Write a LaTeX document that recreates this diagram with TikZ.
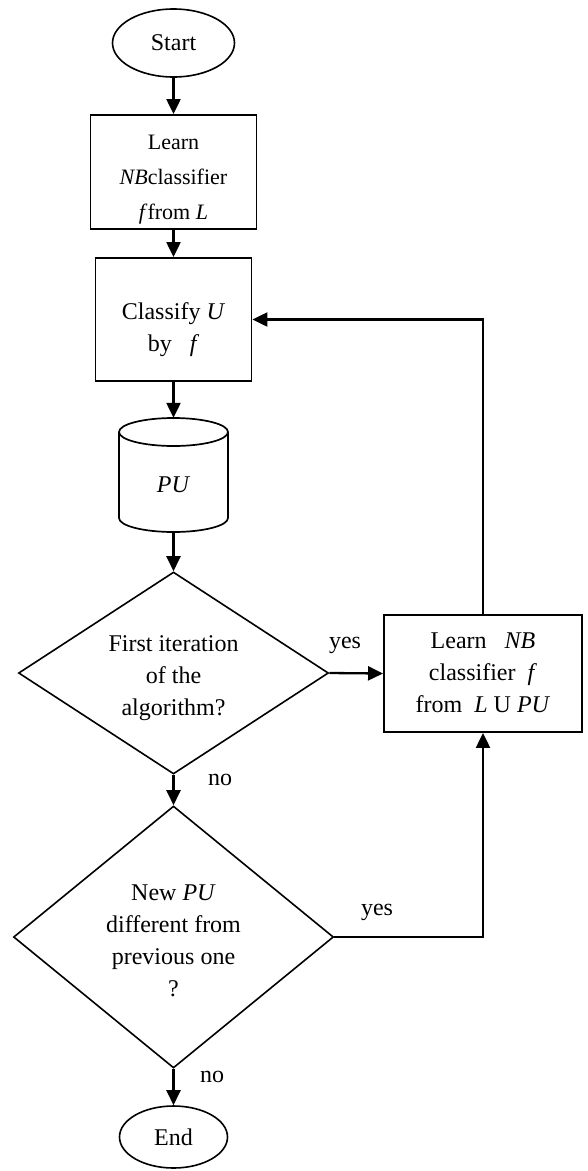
\documentclass[tikz,border=0pt]{standalone}
\usepackage{fontspec}
\setmainfont{Liberation Serif}
\usetikzlibrary{arrows.meta,shapes.geometric}
\newcommand{\shiftdown}[2]{\raisebox{-#1}[\height][\depth]{\begin{tabular}{@{}c@{}}#2\end{tabular}}}
\begin{document}
\begin{tikzpicture}[x=1pt,y=-1pt,
  every node/.style={font=\fontsize{24}{32}\selectfont, align=center, inner sep=0pt},
  term/.style={draw, ellipse, line width=1.6pt},
  proc/.style={draw, rectangle, line width=1.9pt},
  dec/.style={draw, diamond, line width=1.6pt},
  arr/.style={line width=2.3pt, -{Triangle[length=15pt,width=14pt]}},
  lbl/.style={font=\fontsize{24}{28}\selectfont},
  cyl/.style={line width=1.7pt}
]
\useasboundingbox (0,0) rectangle (588,1171);

\node[term, minimum width=122pt, minimum height=68pt] (start) at (173.5,43) {Start};
\node[proc, minimum width=166pt, minimum height=114pt, font=\fontsize{22}{35}\selectfont] (learn1) at (173.5,172) {\shiftdown{5pt}{Learn\\\textit{NB}classifier\\\textit{f}from \textit{L}}};
\node[proc, minimum width=156pt, minimum height=123pt] (classify) at (173.5,319.5) {\shiftdown{10pt}{Classify \textit{U}\\by\ \ \ \textit{f}}};
\node[minimum width=109pt, minimum height=114pt] (pu) at (173.5,475) {\raisebox{-10pt}[\height][\depth]{\textit{PU}}};
\draw[cyl] (173.5,432) ellipse [x radius=54.5pt, y radius=14pt];
\draw[cyl] (119,432) -- (119,518) arc[start angle=180, end angle=360, x radius=54.5pt, y radius=14pt] -- (228,432);
\node[dec, shape aspect=1.53, minimum width=310pt, minimum height=202pt] (d1) at (173.5,673) {\shiftdown{4pt}{First iteration\\of the\\algorithm?}};
\node[proc, minimum width=198pt, minimum height=117pt] (learn2) at (483,673.5) {\shiftdown{1pt}{Learn\ \ \ \textit{NB}\\classifier\ \ \textit{f}\\from\ \ \textit{L} U \textit{PU}}};
\node[dec, shape aspect=1.22, minimum width=320pt, minimum height=262pt] (d2) at (173.5,937) {\shiftdown{5pt}{New \textit{PU}\\different from\\previous one\\?}};
\node[term, minimum width=108pt, minimum height=62pt] (end) at (173.5,1137) {End};

\node[lbl] (yes1) at (345,645) {yes};
\node[lbl] (no1) at (220,780) {no};
\node[lbl] (yes2) at (377,912) {yes};
\node[lbl] (no2) at (212,1077) {no};

\draw[arr] (start) -- (learn1);
\draw[arr] (learn1) -- (classify);
\draw[arr] (classify) -- (pu.north);
\draw[arr] (pu.south) -- (d1.north);
\draw[arr] (d1.east) -- (learn2.west);
\draw[arr] (d1.south) -- (d2.north);
\draw[arr] (d2.east) -| (learn2.south);
\draw[arr] (learn2.north) |- (classify.east);
\draw[arr] (d2.south) -- (end);
\end{tikzpicture}
\end{document}
